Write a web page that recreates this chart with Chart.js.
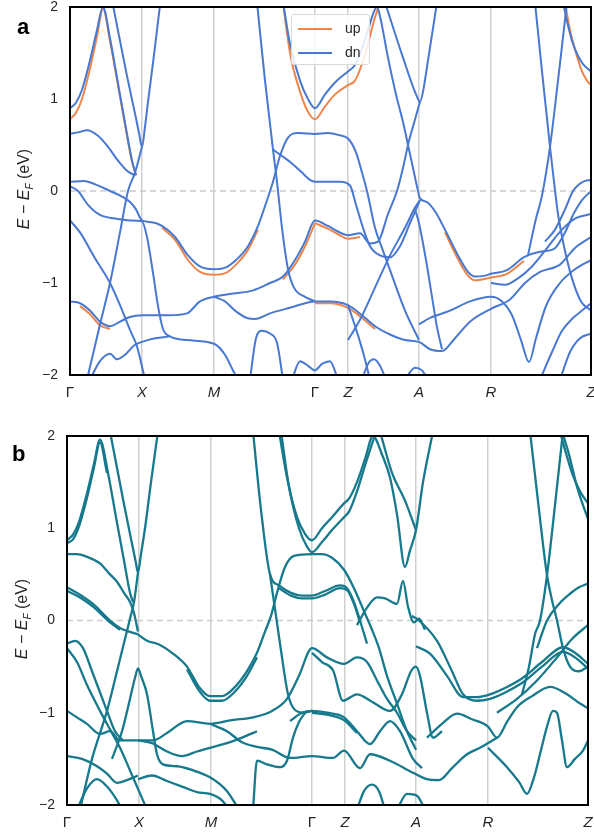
<!DOCTYPE html>
<html>
<head>
<meta charset="utf-8">
<script src="https://cdn.jsdelivr.net/npm/chart.js@4.4.1/dist/chart.umd.min.js"></script>
<style>
    body { margin: 0; background: #fff; width: 594px; height: 838px; position: relative; overflow: hidden; font-family: 'Liberation Sans', Arial, sans-serif; }
    canvas { position: absolute; left: 0; }
    #chartA { top: 0; }
    #chartB { top: 420px; }
    .panel-tag { position: absolute; font-weight: bold; font-size: 22px; line-height: 22px; color: #000; }
    .y-title { position: absolute; transform: translate(-50%, -50%) rotate(-90deg); white-space: nowrap; font-size: 16px; color: #262626; }
    .y-title sub { font-size: 10px; }
    .legend { position: absolute; left: 291px; top: 14px; width: 79px; height: 51px; border: 1px solid #d9d9d9; border-radius: 3px; background: rgba(255,255,255,0.85); box-sizing: border-box; }
    .legend .row { position: absolute; left: 6px; height: 16px; font-size: 14px; color: #262626; }
    .legend .swatch { position: absolute; left: 0; top: 7px; width: 34px; height: 2px; }
    .legend .label { position: absolute; left: 47px; top: -1px; }
</style>
</head>
<body>
<canvas id="chartA" width="604" height="410"></canvas>
<canvas id="chartB" width="604" height="418"></canvas>
<div class="panel-tag" style="left:17px; top:16px;">a</div>
<div class="panel-tag" style="left:12px; top:443px;">b</div>
<div class="y-title" style="left:25px; top:189px;"><i>E</i> − <i>E</i><sub><i>F</i></sub> (eV)</div>
<div class="y-title" style="left:23px; top:619px;"><i>E</i> − <i>E</i><sub><i>F</i></sub> (eV)</div>
<div class="legend">
    <div class="row" style="top:6px;"><span class="swatch" style="background:#EE854A;"></span><span class="label">up</span></div>
    <div class="row" style="top:30px;"><span class="swatch" style="background:#4878D0;"></span><span class="label">dn</span></div>
</div>
<script>
// k-path (distance along path) and energy ticks
const kTicks = [0, 72, 144, 245, 278, 349, 421, 521];
const kLabels = ['Γ', 'X', 'M', 'Γ', 'Z', 'A', 'R', 'Z'];
const eTicks = [-2, -1, 0, 1, 2];

// panel a, spin down bands: [k, E - EF]
const dnBands = [
    [[0,0.90],[6,0.96],[12,1.1],[20,1.42],[27,1.75],[33,2.0],[40,1.66],[48,1.17],[56,0.68],[62,0.33],[66,0.17]],
    [[43,2.02],[57,1.25],[66,0.79],[69,0.63],[72,0.48],[75,0.7],[78,0.97],[84,1.48],[90,2.02]],
    [[17,-2.05],[30,-1.45],[40,-1.0],[50,-0.45],[58,0.0],[65,0.2],[72,0.48]],
    [[0,0.62],[9,0.64],[17,0.66],[28,0.6],[38,0.48],[48,0.33],[57,0.22],[65,0.17]],
    [[0,0.10],[14,0.11],[26,0.07],[40,0.0],[52,-0.06],[60,-0.12],[66,-0.2],[72,-0.32],[82,-0.34],[92,-0.38],[105,-0.5],[118,-0.7],[130,-0.82],[144,-0.85],[156,-0.83],[166,-0.75],[178,-0.6],[188,-0.38],[197,-0.1],[203,0.1],[210,0.38],[218,0.58],[228,0.63],[245,0.62],[258,0.63],[268,0.61],[278,0.57],[286,0.42],[292,0.2],[297,0.0],[305,-0.4],[313,-0.65],[320,-0.86],[335,-1.3],[349,-1.62]],
    [[0,0.05],[8,0.0],[18,-0.15],[30,-0.26],[45,-0.3],[60,-0.32],[72,-0.33],[77,-0.5],[83,-0.89],[88,-1.25],[93,-1.5],[100,-1.58],[117,-1.62],[144,-1.66],[155,-1.78],[163,-1.95],[170,-2.08]],
    [[0,-0.32],[10,-0.45],[25,-0.73],[40,-1.0],[50,-1.24],[60,-1.51],[67,-1.69],[75,-2.05]],
    [[0,-1.2],[10,-1.22],[20,-1.3],[30,-1.42],[40,-1.47],[50,-1.42],[60,-1.37],[72,-1.35],[100,-1.35],[117,-1.33],[130,-1.2],[144,-1.15],[160,-1.12],[183,-1.08],[200,-1.0],[213,-0.93],[225,-0.75],[235,-0.55],[245,-0.32],[258,-0.38],[268,-0.44],[278,-0.48],[290,-0.46],[300,-0.57],[308,-0.55],[318,-0.25],[327,0.0],[333,0.25],[338,0.5],[344,0.74],[350,0.97]],
    [[144,-1.15],[155,-1.2],[165,-1.3],[177,-1.38],[185,-1.39],[200,-1.33],[220,-1.27],[245,-1.2],[260,-1.2],[278,-1.24],[292,-1.35],[305,-1.47],[320,-1.56],[335,-1.62],[349,-1.64],[360,-1.72],[372,-1.74],[385,-1.6],[400,-1.42],[421,-1.28],[440,-1.18],[455,-1.0],[470,-0.88],[490,-0.8],[505,-0.62],[521,-0.5]],
    [[20,-2.05],[30,-1.85],[40,-1.77],[47,-1.83],[55,-1.78],[64,-1.68],[72,-1.64],[85,-1.6],[100,-1.58]],
    [[180,-2.05],[186,-1.6],[192,-1.52],[200,-1.55],[207,-1.65],[213,-2.05]],
    [[222,-2.05],[230,-1.85],[238,-1.9],[245,-1.95],[252,-1.88],[260,-1.85],[268,-2.05]],
    [[213,2.05],[220,1.6],[230,1.2],[238,1.0],[245,0.9],[255,1.05],[265,1.18],[278,1.3],[285,1.37],[292,1.55],[298,1.75],[304,1.95],[307,2.0],[310,1.9],[318,1.45],[326,1.05],[333,0.75],[338,0.5],[343,0.25],[347,0.05],[350,-0.08],[357,-0.12],[365,-0.22],[375,-0.42],[388,-0.7],[398,-0.88],[405,-0.93],[415,-0.92],[421,-0.9],[437,-0.86],[454,-0.72],[470,-0.66],[484,-0.63],[495,-0.45],[504,-0.24],[512,-0.1],[521,0.0]],
    [[315,2.05],[333,1.45],[346,1.05],[350,0.97],[353,1.08],[358,1.42],[367,2.05]],
    [[465,2.05],[472,1.3],[480,0.48],[484,0.1],[488,-0.25],[494,-0.6],[502,-0.95],[511,-1.2],[521,-1.3]],
    [[458,-0.7],[466,-0.3],[472,-0.05],[480,0.48],[488,1.2],[497,2.05]],
    [[493,2.05],[498,1.8],[503,1.6],[508,1.47],[513,1.38],[521,1.3]],
    [[475,-0.55],[485,-0.42],[495,-0.2],[503,0.0],[510,0.08],[515,0.11],[521,0.12]],
    [[349,-1.45],[360,-1.38],[380,-1.3],[400,-1.2],[421,-1.15],[432,-1.2],[442,-1.35],[451,-1.62],[459,-1.86],[466,-1.6],[476,-1.25],[490,-1.0],[505,-0.85],[521,-0.75]],
    [[421,-1.0],[435,-1.02],[448,-0.95],[462,-0.82],[477,-0.62],[492,-0.42],[505,-0.3],[521,-0.25]],
    [[470,-2.05],[482,-1.75],[492,-1.52],[503,-1.38],[512,-1.3],[521,-1.22]],
    [[490,-2.05],[500,-1.75],[510,-1.6],[521,-1.55]],
    [[278,-1.62],[290,-1.4],[305,-1.05],[320,-0.7],[335,-0.4],[345,-0.18],[350,-0.1]],
    [[292,-2.05],[298,-1.88],[304,-1.83],[310,-1.9],[316,-2.05]],
    [[335,-2.05],[345,-1.92],[352,-1.95],[358,-2.05]],
    [[278,-1.24],[286,-1.5],[293,-1.75],[300,-2.05]],
    [[187,2.05],[195,1.2],[203,0.45],[207,0.1],[212,-0.4],[218,-0.85],[224,-1.05],[235,-1.15],[245,-1.2]],
    [[203,0.45],[212,0.38],[222,0.3],[232,0.2],[240,0.12],[245,0.1],[258,0.1],[270,0.1],[280,0.06],[286,-0.15],[293,-0.4],[300,-0.6],[310,-0.7],[320,-0.72],[330,-0.6],[340,-0.35],[350,-0.1]],
    [[345,-0.2],[349,-0.35],[356,-0.75],[362,-1.15],[367,-1.48],[372,-1.72]]
];

// panel a, spin up bands where they visibly split from spin down
const upBands = [
    [[0,0.78],[6,0.85],[12,1.0],[20,1.33],[27,1.68],[33,1.98],[40,1.63],[48,1.15],[56,0.66],[62,0.32],[66,0.17]],
    [[92,-0.4],[105,-0.53],[118,-0.75],[130,-0.88],[144,-0.91],[156,-0.89],[166,-0.8],[178,-0.64],[188,-0.42]],
    [[213,2.05],[220,1.5],[230,1.08],[238,0.86],[245,0.78],[255,0.92],[265,1.05],[278,1.15],[285,1.2],[292,1.38],[298,1.6],[304,1.85],[309,2.02]],
    [[495,2.05],[500,1.75],[506,1.5],[512,1.3],[517,1.2],[521,1.15]],
    [[375,-0.45],[388,-0.74],[398,-0.92],[405,-0.97],[421,-0.94],[437,-0.9],[454,-0.76]],
    [[10,-1.25],[20,-1.34],[30,-1.46],[40,-1.5]],
    [[213,-0.96],[225,-0.8],[235,-0.6],[245,-0.35]],
    [[245,-0.35],[258,-0.41],[268,-0.47],[278,-0.52],[290,-0.5]],
    [[245,-1.22],[260,-1.22],[278,-1.27],[292,-1.38],[305,-1.5]]
];

// panel b, bands with spin-orbit coupling
const socBands = [
    [[0,0.87],[6,0.93],[12,1.07],[20,1.38],[27,1.7],[33,1.96],[41,1.6],[49,1.12],[57,0.65],[63,0.3],[66,0.2]],
    [[0,0.84],[6,0.88],[12,1.02],[20,1.33],[27,1.66],[33,1.93],[40,1.6]],
    [[43,2.05],[57,1.26],[66,0.78],[69,0.62],[71,0.52],[74,0.72],[78,1.0],[84,1.5],[91,2.05]],
    [[0,0.72],[10,0.72],[20,0.69],[33,0.62],[43,0.5],[50,0.42],[57,0.3],[63,0.2],[67,0.08],[71,-0.12]],
    [[0,0.36],[13,0.28],[26,0.18],[43,0.0],[53,-0.08],[62,-0.12],[71,-0.15]],
    [[0,0.32],[13,0.25],[26,0.15],[43,-0.02],[53,-0.1]],
    [[13,-2.05],[25,-1.5],[40,-0.98],[50,-0.55],[58,-0.2],[63,0.02],[67,0.2],[71,0.52]],
    [[0,-0.3],[10,-0.45],[20,-0.7],[33,-0.98],[43,-1.18],[53,-1.38],[62,-1.6],[72,-1.85],[80,-2.05]],
    [[0,-0.25],[8,-0.22],[16,-0.3],[25,-0.55],[33,-0.78],[40,-0.98],[48,-1.2],[56,-1.3]],
    [[45,-1.5],[55,-1.2],[63,-0.85],[68,-0.62],[71,-0.52],[74,-0.6],[80,-0.8],[86,-1.2],[90,-1.45],[96,-1.56],[110,-1.58],[125,-1.62],[143,-1.7],[160,-1.85],[172,-2.05]],
    [[71,-0.15],[80,-0.22],[92,-0.26],[105,-0.35],[120,-0.5],[132,-0.72],[143,-0.82],[155,-0.82],[168,-0.72],[180,-0.55],[190,-0.35],[198,-0.12],[204,0.05],[210,0.3],[218,0.58],[227,0.7],[245,0.72],[255,0.72],[265,0.68],[277,0.55],[287,0.35],[297,0.1],[305,-0.1],[312,-0.3],[320,-0.6],[330,-0.9],[340,-1.2],[349,-1.4]],
    [[120,-0.53],[132,-0.76],[143,-0.87],[155,-0.87],[168,-0.77],[180,-0.6],[190,-0.4]],
    [[186,2.05],[194,1.2],[203,0.5],[212,0.38],[224,0.3],[235,0.27],[245,0.27],[258,0.32],[273,0.38],[280,0.35],[287,0.2],[293,0.0],[300,-0.25]],
    [[212,0.35],[224,0.27],[235,0.24],[245,0.24],[258,0.28],[273,0.35],[280,0.33],[287,0.18],[293,-0.02]],
    [[203,0.5],[209,0.05],[215,-0.4],[221,-0.8],[228,-0.97],[237,-1.0],[245,-0.98]],
    [[212,2.05],[220,1.55],[230,1.12],[238,0.94],[245,0.87],[255,1.0],[265,1.12],[277,1.27],[282,1.32],[290,1.5],[298,1.75],[306,2.0],[315,1.8],[323,1.55],[330,1.15],[338,0.58],[343,0.76],[349,0.98],[356,1.5],[366,2.05]],
    [[214,2.05],[222,1.45],[232,1.0],[240,0.8],[245,0.74],[255,0.85],[265,0.98],[277,1.12],[282,1.18],[290,1.4],[298,1.68],[307,1.98]],
    [[313,2.05],[325,1.6],[338,1.3],[349,0.98]],
    [[290,-0.05],[300,0.14],[310,0.25],[318,0.24],[330,0.18],[336,0.43],[341,0.15],[347,-0.02],[352,0.02],[358,-0.1]],
    [[0,-0.98],[10,-1.05],[20,-1.12],[33,-1.23],[43,-1.2],[53,-1.3],[62,-1.3],[71,-1.3],[86,-1.3],[100,-1.22],[120,-1.09],[143,-1.12],[165,-1.08],[186,-1.05],[205,-0.98],[220,-0.85],[232,-0.6],[245,-0.3],[260,-0.4],[277,-0.47],[290,-0.4],[300,-0.45],[310,-0.65],[320,-0.85],[330,-1.0],[340,-1.2],[349,-1.3]],
    [[245,-0.35],[255,-0.45],[266,-0.54],[276,-0.87],[290,-0.8],[305,-0.88],[323,-0.98],[335,-0.8],[344,-0.55],[349,-0.5],[353,-0.6],[360,-1.0],[366,-1.27],[375,-1.2]],
    [[223,-1.09],[235,-1.0],[245,-0.98],[260,-1.0],[277,-1.05],[290,-1.2],[303,-1.34],[313,-1.2],[323,-1.09],[333,-1.2],[346,-1.5],[355,-1.6]],
    [[245,-1.0],[260,-1.02],[277,-1.08],[290,-1.22]],
    [[0,-1.47],[15,-1.5],[30,-1.58],[40,-1.66],[50,-1.76],[60,-1.73],[71,-1.68]],
    [[143,-1.12],[160,-1.2],[175,-1.32],[190,-1.37],[205,-1.4],[223,-1.49],[245,-1.47],[266,-1.49],[277,-1.41],[293,-1.6],[303,-1.45],[323,-1.52],[346,-1.65],[360,-1.72],[372,-1.73],[385,-1.6],[400,-1.45],[413,-1.38],[421,-1.33],[430,-1.27]],
    [[349,-0.28],[363,-0.36],[380,-0.6],[396,-0.83],[410,-0.83],[423,-0.8],[440,-0.72],[456,-0.62],[475,-0.45],[496,-0.29],[508,-0.35],[521,-0.47]],
    [[345,0.05],[352,0.0],[370,-0.22],[385,-0.55],[396,-0.8],[410,-0.87],[423,-0.85],[440,-0.77],[456,-0.67],[475,-0.5],[496,-0.34],[508,-0.4],[521,-0.52]],
    [[360,-1.27],[375,-1.12],[390,-1.01],[405,-1.07],[421,-1.15],[430,-1.27],[440,-1.1],[450,-0.94],[465,-0.82],[483,-0.72],[500,-0.8],[513,-0.9],[521,-0.95]],
    [[421,-1.38],[440,-1.59],[452,-1.75],[460,-1.88],[467,-1.7],[473,-1.45],[480,-1.15],[486,-0.98],[490,-1.0],[495,-1.3],[500,-1.59],[508,-1.5],[516,-1.41],[521,-1.3]],
    [[430,-1.0],[450,-0.85],[470,-0.65],[490,-0.4],[505,-0.2],[521,-0.05]],
    [[493,2.05],[498,1.85],[505,1.6],[513,1.4],[521,1.27]],
    [[495,2.05],[502,1.8],[510,1.45],[516,1.25],[521,1.1]],
    [[463,2.05],[472,1.2],[480,0.49],[485,0.22],[490,0.0],[496,-0.3],[503,-0.5],[512,-0.55],[521,-0.5]],
    [[455,-0.8],[462,-0.5],[468,-0.15],[473,0.0],[480,0.49],[488,1.25],[496,2.05]],
    [[470,-0.3],[480,0.0],[492,0.18],[503,0.29],[512,0.36],[521,0.4]],
    [[186,-2.05],[190,-1.52],[200,-1.56],[213,-1.59],[220,-1.52],[226,-1.27],[232,-1.1],[238,-1.0]],
    [[10,-2.05],[20,-1.82],[30,-1.72],[40,-1.8],[50,-1.95],[55,-2.05]],
    [[71,-1.72],[85,-1.68],[100,-1.74],[115,-1.8],[130,-1.86],[143,-1.88],[155,-1.95],[162,-2.05]],
    [[71,-1.3],[85,-1.33],[100,-1.42],[115,-1.47],[130,-1.42],[143,-1.38],[160,-1.33],[175,-1.27],[190,-1.2]],
    [[290,-2.05],[297,-1.85],[305,-1.78],[312,-1.85],[318,-2.05]],
    [[330,-2.05],[340,-1.88],[350,-1.9],[358,-2.05]]
];

document.addEventListener('DOMContentLoaded', () => {
    const FONT = "'Liberation Sans', Arial, sans-serif";
    const TEXT = '#262626';

    // 1. helpers
    function bandSets(bands, color, width, order) {
        return bands.map(b => ({
            data: b,
            borderColor: color,
            borderWidth: width,
            pointRadius: 0,
            fill: false,
            cubicInterpolationMode: 'monotone',
            order: order
        }));
    }

    function fermiLine() {
        return {
            data: [[kTicks[0], 0], [kTicks[kTicks.length - 1], 0]],
            borderColor: '#cccccc',
            borderWidth: 1.5,
            borderDash: [6, 4],
            pointRadius: 0,
            order: 100
        };
    }

    // black frame round the plot area
    const framePlugin = {
        id: 'frame',
        afterDatasetsDraw(chart) {
            const a = chart.chartArea;
            const ctx = chart.ctx;
            ctx.save();
            ctx.strokeStyle = '#000';
            ctx.lineWidth = 2;
            ctx.strokeRect(a.left, a.top, a.right - a.left, a.bottom - a.top);
            ctx.restore();
        }
    };

    // keep the plot area exactly where the layout padding puts it
    function noOverhang(s) {
        s.paddingLeft = 0;
        s.paddingRight = 0;
        s.paddingTop = 0;
        s.paddingBottom = 0;
    }

    function options(pad, xHeight, yWidth) {
        return {
            responsive: false,
            animation: false,
            layout: { padding: pad },
            plugins: { legend: { display: false }, tooltip: { enabled: false } },
            scales: {
                x: {
                    type: 'linear',
                    min: kTicks[0],
                    max: kTicks[kTicks.length - 1],
                    afterBuildTicks: s => { s.ticks = kTicks.map(v => ({ value: v })); },
                    afterFit: s => { s.height = xHeight; noOverhang(s); },
                    grid: { color: '#d0d0d0', lineWidth: 1.5, drawTicks: false },
                    border: { display: false },
                    ticks: {
                        padding: 9,
                        color: TEXT,
                        autoSkip: false,
                        maxRotation: 0,
                        callback: (v, i) => kLabels[i],
                        font: ctx => ({ family: FONT, size: 15, style: kLabels[ctx.index] === 'Γ' ? 'normal' : 'italic' })
                    }
                },
                y: {
                    min: -2,
                    max: 2,
                    afterBuildTicks: s => { s.ticks = eTicks.map(v => ({ value: v })); },
                    afterFit: s => { s.width = yWidth; noOverhang(s); },
                    grid: { display: false, drawTicks: false },
                    border: { display: false },
                    ticks: {
                        padding: 12,
                        color: TEXT,
                        font: { family: FONT, size: 14 },
                        callback: v => v < 0 ? '\u2212' + Math.abs(v) : String(v)
                    }
                }
            }
        };
    }

    // 2. panel a: spin up / spin down
    new Chart(document.getElementById('chartA'), {
        type: 'line',
        data: {
            datasets: [
                fermiLine(),
                ...bandSets(upBands, '#EE854A', 2, 50),
                ...bandSets(dnBands, '#4878D0', 2, 10)
            ]
        },
        options: options({ top: 7, right: 13, left: 0, bottom: 0 }, 35, 70),
        plugins: [framePlugin]
    });

    // 3. panel b: with spin-orbit coupling
    new Chart(document.getElementById('chartB'), {
        type: 'line',
        data: {
            datasets: [
                fermiLine(),
                ...bandSets(socBands, '#17798C', 2.3, 10)
            ]
        },
        options: options({ top: 16, right: 16, left: 0, bottom: 0 }, 33, 67),
        plugins: [framePlugin]
    });
});
</script>
</body>
</html>
